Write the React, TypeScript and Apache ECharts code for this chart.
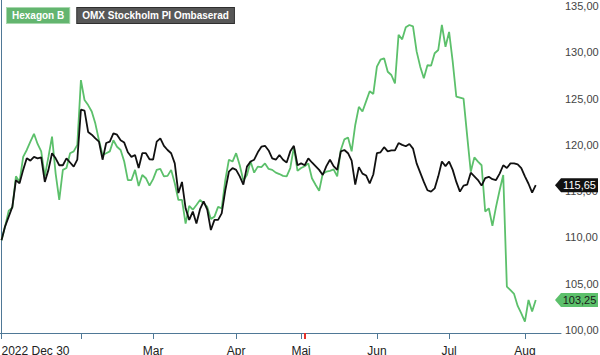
import React, { useEffect, useRef } from "react";
import * as echarts from "echarts";

// Trading-day index 0 = 2022 Dec 30
const hexagonB = [
  109.7, 111.2, 112.9, 113.2, 116.6, 116.0, 118.7, 119.45, 120.35, 121.2,
  120.1, 119.3, 116.6, 118.7, 120.9, 116.9, 114.05, 117.3, 117.5, 119.1,
  119.3, 120.0, 127.0, 124.85, 124.3, 123.6, 122.3, 120.5, 118.9, 119.1,
  119.3, 120.5, 119.8, 119.45, 118.2, 116.2, 116.2, 117.3, 115.55, 116.75,
  116.4, 115.6, 116.3, 117.3, 117.4, 116.6, 116.65, 117.3, 115.85, 114.05,
  114.05, 111.5, 113.4, 113.0, 113.5, 114.05, 113.7, 113.3, 112.0, 112.25,
  113.3, 113.15, 116.2, 118.4, 118.2, 119.1, 117.8, 116.15, 116.75, 118.2,
  117.0, 117.65, 117.6, 118.0, 117.4, 117.3, 117.0, 116.85, 116.65, 116.6,
  117.5, 119.75, 117.2, 117.5, 117.7, 118.0, 116.4, 115.7, 115.05, 116.9,
  117.1, 117.2, 117.35, 116.6, 119.45, 120.6, 120.8, 119.3, 122.15, 124.1,
  123.6, 124.7, 125.8, 125.5, 128.45, 129.2, 129.35, 127.9, 127.55, 126.65,
  131.9, 131.4, 132.7, 132.95, 132.8, 130.1, 128.45, 127.2, 128.6, 128.55,
  129.9, 130.25, 132.95, 130.6, 132.2, 129.0, 125.2, 125.1, 125.0, 121.0,
  117.1, 118.65, 118.2, 117.8, 112.8, 113.15, 111.25, 113.3, 115.1, 116.75,
  104.7, 104.3, 103.9, 102.6, 101.8, 100.9, 103.25, 102.0, 103.25,
];

const omxPI = [
  109.7, 111.2, 112.25, 113.3, 116.2, 115.85, 117.3, 118.55, 118.3, 118.7,
  118.55, 118.65, 116.0, 117.3, 119.1, 118.55, 117.8, 117.8, 118.55, 118.1,
  117.65, 118.4, 123.8, 123.7, 121.4, 121.1, 120.7, 120.35, 118.4, 120.2,
  120.35, 121.25, 121.1, 120.5, 120.25, 119.2, 118.7, 118.9, 117.5, 119.1,
  119.1, 118.45, 118.4, 120.35, 120.7, 119.9, 119.45, 119.1, 118.0, 114.8,
  116.0, 113.15, 111.9, 112.8, 111.5, 113.05, 113.9, 113.0, 110.8, 111.9,
  111.9, 112.6, 115.1, 117.1, 117.5, 117.3, 116.6, 115.7, 117.65, 118.2,
  118.4, 119.2, 119.8, 119.9, 119.4, 118.55, 118.4, 118.9, 118.4, 118.1,
  119.3, 119.9, 117.8, 118.0, 117.8, 118.55, 118.1, 117.7, 117.3, 116.75,
  117.7, 118.4, 117.7, 117.3, 119.3, 119.45, 119.1, 118.3, 115.7, 117.6,
  116.9, 116.7, 115.85, 116.8, 119.1, 119.2, 119.75, 119.3, 119.4, 119.4,
  120.2, 120.0, 119.85, 120.1, 119.6, 118.0, 117.0, 116.0, 115.1, 114.95,
  115.3, 116.6, 118.2, 117.7, 118.2, 117.3, 116.0, 114.95, 115.6, 115.7,
  117.0, 116.6, 116.2, 115.6, 116.4, 116.55, 116.3, 116.2, 116.9, 117.8,
  117.5, 118.0, 118.0, 117.9, 117.5, 116.6, 115.8, 114.85, 115.65,
];

const seriesNames = ["Hexagon B", "OMX Stockholm PI Ombaserad"];
const monthTickIdx = [0, 22, 42, 65, 83, 104, 124, 145];
const monthTickLabels = ["2022 Dec 30", "", "Mar", "Apr", "Mai", "Jun", "Jul", "Aug"];
const eventTickIdx = [84];
const yTicks = [100, 105, 110, 115, 120, 125, 130, 135];

const X_MIN = -0.415;
const X_MAX = 155;
const Y_MIN = 99.68;
const Y_MAX = 135.65;

const GREEN = "#5cc06b";
const BLACK = "#111111";
const AXIS = "#4f7896";
const FONT = "Arial, 'Liberation Sans', Helvetica, sans-serif";

const fmt = (v: number) => v.toFixed(2).replace(".", ",");

const badge = (value: number, bg: string, fg: string) => ({
  symbol: "path://M0,7L6,0H43V14H6Z",
  symbolSize: [43, 14],
  symbolKeepAspect: false,
  symbolOffset: [15.5, 0],
  silent: true,
  itemStyle: { color: bg },
  label: {
    show: true,
    position: "inside",
    color: fg,
    fontSize: 11,
    fontFamily: FONT,
    offset: [3, 0],
    formatter: () => fmt(value),
  },
  data: [{ coord: [X_MAX, value] }],
});

export default function App() {
  const ref = useRef<HTMLDivElement>(null);

  useEffect(() => {
    document.body.style.margin = "0";
    if (!ref.current) return;
    const chart = echarts.init(ref.current, undefined, { renderer: "svg" });
    const hexLast = hexagonB[hexagonB.length - 1];
    const omxLast = omxPI[omxPI.length - 1];
    chart.setOption({
      animation: false,
      grid: { left: 0, right: 39, top: 0, bottom: 22, outerBoundsMode: "none" },
      legend: {
        left: -3,
        top: 2,
        itemGap: 2,
        itemWidth: 0,
        itemHeight: 0,
        selectedMode: false,
        textStyle: { fontSize: 10, fontWeight: "bold", fontFamily: FONT },
        data: [
          {
            name: seriesNames[0],
            icon: "none",
            textStyle: {
              color: "#ffffff",
              backgroundColor: "#63b56f",
              borderColor: "#a8d8ae",
              borderWidth: 1,
              padding: [3, 5, 2, 5],
            },
          },
          {
            name: seriesNames[1],
            icon: "none",
            textStyle: {
              color: "#ffffff",
              backgroundColor: "#575757",
              borderColor: "#2e2e2e",
              borderWidth: 1,
              padding: [3, 5, 2, 5],
            },
          },
        ],
      },
      xAxis: [
        {
          type: "value",
          min: X_MIN,
          max: X_MAX,
          position: "bottom",
          splitLine: { show: false },
          axisLine: { show: true, lineStyle: { color: AXIS, width: 1 } },
          axisTick: {
            show: true,
            customValues: monthTickIdx,
            length: 6,
            lineStyle: { color: AXIS },
          },
          axisLabel: {
            customValues: monthTickIdx,
            formatter: (v: number) => {
              const k = monthTickIdx.indexOf(Math.round(v));
              return k >= 0 ? monthTickLabels[k] : "";
            },
            alignMinLabel: "left",
            margin: 12,
            fontSize: 12,
            color: "#222",
            fontFamily: FONT,
          },
        },
        {
          type: "value",
          min: X_MIN,
          max: X_MAX,
          position: "bottom",
          splitLine: { show: false },
          axisLine: { show: false },
          axisTick: {
            show: true,
            customValues: eventTickIdx,
            length: 6,
            lineStyle: { color: "#e5312a", width: 2 },
          },
          axisLabel: { show: false },
        },
      ],
      yAxis: {
        type: "value",
        position: "right",
        min: Y_MIN,
        max: Y_MAX,
        splitLine: { show: false },
        axisLine: { show: true, lineStyle: { color: AXIS, width: 1 } },
        axisTick: { show: false },
        axisLabel: {
          customValues: yTicks,
          formatter: (v: number) => fmt(v),
          margin: 4,
          fontSize: 11,
          color: "#444",
          fontFamily: FONT,
        },
      },
      series: [
        {
          name: seriesNames[0],
          type: "line",
          data: hexagonB.map((v, i) => [i, v]),
          showSymbol: false,
          symbol: "none",
          lineStyle: { color: GREEN, width: 1.8 },
          itemStyle: { color: GREEN },
          markPoint: badge(hexLast, GREEN, "#1a1a1a"),
        },
        {
          name: seriesNames[1],
          type: "line",
          data: omxPI.map((v, i) => [i, v]),
          showSymbol: false,
          symbol: "none",
          lineStyle: { color: BLACK, width: 1.8 },
          itemStyle: { color: BLACK },
          markPoint: badge(omxLast, BLACK, "#ffffff"),
        },
      ],
    });
    return () => chart.dispose();
  }, []);

  return <div ref={ref} style={{ width: 600, height: 355 }} />;
}
